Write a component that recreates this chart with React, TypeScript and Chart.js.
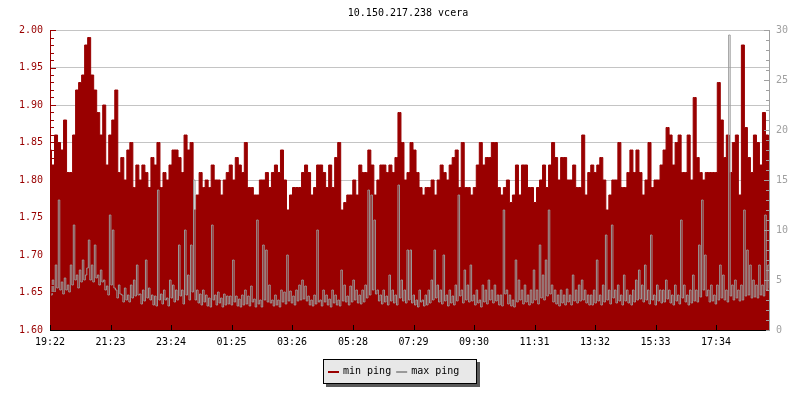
import React, { useEffect, useRef } from "react";
import { Chart, registerables } from "chart.js";

Chart.register(...registerables);

const TITLE = "10.150.217.238 vcera";
const SERIES_NAMES = ["min ping", "max ping"];
const TIME_LABELS = ["19:22", "21:23", "23:24", "01:25", "03:26", "05:28", "07:29", "09:30", "11:31", "13:32", "15:33", "17:34"];
const SPAN_MINUTES = 1440;

// min ping (left axis), one sample per ~6 minutes, starting 19:22
const MIN_PING = [
  1.84, 1.82, 1.86, 1.85, 1.84, 1.88, 1.81, 1.81, 1.86, 1.92,
  1.93, 1.94, 1.98, 1.99, 1.94, 1.92, 1.89, 1.86, 1.90, 1.82,
  1.86, 1.88, 1.92, 1.81, 1.83, 1.80, 1.84, 1.85, 1.79, 1.82,
  1.80, 1.82, 1.81, 1.79, 1.83, 1.82, 1.85, 1.79, 1.81, 1.80,
  1.82, 1.84, 1.84, 1.83, 1.81, 1.86, 1.84, 1.85, 1.76, 1.78,
  1.81, 1.79, 1.80, 1.79, 1.82, 1.80, 1.80, 1.78, 1.80, 1.81,
  1.82, 1.80, 1.83, 1.82, 1.81, 1.85, 1.79, 1.79, 1.78, 1.78,
  1.80, 1.80, 1.81, 1.79, 1.81, 1.82, 1.81, 1.84, 1.80, 1.76,
  1.78, 1.79, 1.79, 1.79, 1.81, 1.82, 1.81, 1.78, 1.79, 1.82,
  1.82, 1.81, 1.79, 1.82, 1.79, 1.83, 1.85, 1.76, 1.77, 1.78,
  1.78, 1.80, 1.78, 1.82, 1.81, 1.81, 1.84, 1.82, 1.78, 1.80,
  1.82, 1.82, 1.81, 1.82, 1.81, 1.83, 1.89, 1.85, 1.80, 1.81,
  1.85, 1.84, 1.81, 1.79, 1.78, 1.79, 1.79, 1.80, 1.78, 1.80,
  1.82, 1.81, 1.80, 1.82, 1.83, 1.84, 1.79, 1.85, 1.79, 1.79,
  1.78, 1.79, 1.82, 1.85, 1.82, 1.83, 1.83, 1.85, 1.85, 1.79,
  1.78, 1.79, 1.80, 1.77, 1.78, 1.82, 1.78, 1.82, 1.82, 1.79,
  1.79, 1.77, 1.79, 1.80, 1.82, 1.79, 1.82, 1.85, 1.83, 1.80,
  1.83, 1.83, 1.80, 1.80, 1.82, 1.79, 1.79, 1.86, 1.78, 1.81,
  1.82, 1.81, 1.82, 1.83, 1.80, 1.76, 1.78, 1.80, 1.80, 1.85,
  1.79, 1.79, 1.81, 1.84, 1.81, 1.84, 1.81, 1.78, 1.80, 1.85,
  1.79, 1.80, 1.80, 1.82, 1.84, 1.87, 1.86, 1.82, 1.85, 1.86,
  1.81, 1.81, 1.86, 1.80, 1.91, 1.83, 1.81, 1.80, 1.81, 1.81,
  1.81, 1.81, 1.93, 1.88, 1.83, 1.86, 1.81, 1.85, 1.86, 1.78,
  1.98, 1.87, 1.83, 1.81, 1.86, 1.85, 1.82, 1.89, 1.86, 1.84,
];

// max ping (right axis), one sample per ~3 minutes
const MAX_PING = [
  4.5, 3.5, 5.0, 3.8, 6.5, 4.2, 13.0, 4.0, 4.8, 3.6, 5.2, 4.0, 4.5, 3.8, 6.5, 4.5, 10.5, 5.0, 5.5, 4.2,
  6.0, 4.8, 7.0, 5.0, 5.5, 6.2, 9.0, 5.0, 6.5, 4.8, 8.5, 5.2, 5.5, 4.5, 6.0, 4.8, 5.0, 4.0, 4.4, 3.5,
  11.5, 4.5, 10.0, 4.2, 4.0, 3.2, 4.5, 3.6, 3.5, 2.8, 4.2, 3.0, 3.5, 2.8, 4.5, 3.2, 5.0, 3.4, 6.5, 3.5,
  3.6, 2.6, 4.0, 2.9, 7.0, 3.2, 4.2, 3.0, 3.5, 2.5, 3.4, 2.4, 14.0, 3.0, 3.6, 2.6, 4.0, 3.0, 3.2, 2.4,
  5.0, 3.2, 4.5, 2.8, 4.0, 3.0, 8.5, 3.4, 4.0, 2.6, 10.0, 3.5, 5.5, 3.0, 8.5, 3.8, 15.0, 3.0, 4.0, 2.7,
  3.6, 2.5, 4.0, 2.8, 3.5, 2.4, 3.2, 2.3, 10.5, 3.0, 3.5, 2.5, 3.8, 2.7, 3.2, 2.3, 3.6, 2.5, 3.4, 2.6,
  3.4, 2.5, 7.0, 2.8, 3.4, 2.4, 3.1, 2.3, 3.5, 2.5, 4.0, 2.6, 3.4, 2.4, 4.4, 2.8, 3.1, 2.3, 11.0, 2.6,
  3.0, 2.3, 8.5, 3.0, 8.0, 2.8, 4.5, 2.7, 3.0, 2.4, 3.5, 2.5, 3.0, 2.3, 4.0, 2.8, 3.8, 2.6, 7.5, 2.9,
  3.9, 2.7, 3.4, 2.5, 4.0, 2.9, 4.5, 3.0, 5.0, 3.1, 4.4, 2.9, 3.4, 2.5, 3.0, 2.4, 3.5, 2.6, 10.0, 2.8,
  3.0, 2.4, 4.0, 2.8, 3.5, 2.5, 3.1, 2.3, 4.0, 2.7, 3.5, 2.5, 3.0, 2.4, 6.0, 2.9, 4.5, 2.8, 3.4, 2.5,
  4.4, 2.8, 5.0, 3.0, 4.0, 2.7, 3.5, 2.6, 4.0, 2.8, 4.5, 3.2, 14.0, 3.5, 13.5, 4.0, 11.0, 3.6, 4.0, 2.9,
  3.5, 2.6, 4.0, 2.8, 3.4, 2.5, 5.5, 2.9, 4.0, 2.7, 3.5, 2.5, 14.5, 3.2, 5.0, 2.9, 4.0, 2.7, 8.0, 3.0,
  8.0, 2.7, 3.5, 2.5, 3.0, 2.3, 4.0, 2.8, 3.0, 2.4, 3.5, 2.5, 4.0, 2.7, 5.0, 3.0, 8.0, 3.2, 4.5, 2.8,
  4.0, 2.6, 7.5, 2.9, 3.5, 2.4, 4.0, 2.7, 3.4, 2.5, 4.5, 2.9, 13.5, 3.4, 4.0, 2.7, 6.0, 3.0, 4.5, 2.8,
  6.5, 2.9, 3.5, 2.5, 4.0, 2.7, 3.0, 2.3, 4.5, 2.8, 4.0, 2.6, 5.0, 3.0, 4.0, 2.7, 4.5, 2.9, 3.5, 2.5,
  3.5, 2.4, 12.0, 3.6, 4.0, 2.6, 3.5, 2.4, 3.0, 2.3, 7.0, 2.8, 5.0, 3.0, 4.0, 2.6, 4.5, 2.8, 3.5, 2.5,
  4.0, 2.7, 6.0, 3.0, 4.0, 2.6, 8.5, 3.2, 5.5, 3.0, 7.0, 3.4, 12.0, 3.6, 4.5, 2.8, 4.0, 2.6, 3.5, 2.4,
  4.0, 2.7, 3.5, 2.5, 4.1, 2.8, 3.5, 2.5, 5.5, 2.9, 4.0, 2.7, 4.5, 2.9, 5.0, 3.0, 4.0, 2.7, 3.5, 2.5,
  3.5, 2.5, 4.0, 2.7, 7.0, 2.9, 3.5, 2.5, 4.5, 2.8, 9.5, 3.0, 4.0, 2.6, 10.5, 3.2, 4.0, 2.7, 4.5, 2.9,
  3.5, 2.5, 5.5, 2.9, 4.0, 2.7, 3.5, 2.5, 4.0, 2.8, 5.0, 3.0, 6.0, 3.1, 4.5, 2.8, 6.5, 3.0, 4.0, 2.6,
  9.5, 3.0, 3.5, 2.5, 4.5, 2.9, 4.0, 2.7, 4.0, 2.8, 5.0, 3.1, 4.0, 2.7, 3.5, 2.5, 4.5, 2.9, 3.5, 2.6,
  11.0, 3.2, 4.5, 2.8, 3.5, 2.5, 4.0, 2.7, 5.5, 2.9, 4.0, 2.8, 8.5, 3.3, 13.0, 4.0, 7.5, 3.4, 4.0, 2.8,
  4.5, 2.9, 3.5, 2.6, 4.5, 3.0, 6.5, 3.2, 5.5, 3.0, 4.0, 2.8, 29.5, 3.4, 4.5, 3.0, 5.0, 3.2, 4.0, 2.9,
  4.5, 3.0, 12.0, 3.4, 8.0, 3.5, 6.5, 3.2, 5.0, 3.3, 4.5, 3.2, 6.5, 3.5, 4.5, 3.4, 11.5, 4.0, 6.5, 4.2,
];

const RED = "#990000";
const GRAY = "#999999";
const AXIS_GRAY = "#a0a0a0";
const GRID = "#c4c4c4";
const FONT = "'DejaVu Sans Mono', monospace";

const toMin = (s: string) => {
  const [h, m] = s.split(":").map(Number);
  return h * 60 + m;
};
const T0 = toMin(TIME_LABELS[0]);
const TICK_MIN = TIME_LABELS.map((s) => (toMin(s) - T0 + SPAN_MINUTES) % SPAN_MINUTES);

const seriesPoints = (arr: number[]) =>
  arr.map((v, i) => ({ x: (i * SPAN_MINUTES) / (arr.length - 1), y: v }));

const decoPlugin = {
  id: "deco",
  afterDatasetsDraw(chart: any) {
    const { ctx, chartArea: a, scales } = chart;
    const y = scales.y;
    const y2 = scales.y2;
    const x = scales.x;
    ctx.save();
    ctx.lineWidth = 1;

    // left axis (red) with major/minor ticks
    ctx.strokeStyle = RED;
    ctx.beginPath();
    ctx.moveTo(a.left + 0.5, a.top);
    ctx.lineTo(a.left + 0.5, a.bottom);
    for (let k = 0; k <= 40; k++) {
      const v = y.min + (k * (y.max - y.min)) / 40;
      const p = Math.round(y.getPixelForValue(v)) + 0.5;
      const len = k % 5 === 0 ? 5 : 3;
      ctx.moveTo(a.left, p);
      ctx.lineTo(a.left + 1 + len, p);
    }
    ctx.stroke();

    // right axis (gray)
    ctx.strokeStyle = AXIS_GRAY;
    ctx.beginPath();
    ctx.moveTo(a.right - 0.5, a.top);
    ctx.lineTo(a.right - 0.5, a.bottom + 1);
    for (let k = 0; k <= 30; k++) {
      const v = y2.min + (k * (y2.max - y2.min)) / 30;
      const p = Math.round(y2.getPixelForValue(v)) + 0.5;
      const len = k % 5 === 0 ? 5 : 3;
      ctx.moveTo(a.right, p);
      ctx.lineTo(a.right - 1 - len, p);
    }
    ctx.stroke();

    // bottom axis (black)
    ctx.strokeStyle = "#000000";
    ctx.beginPath();
    ctx.moveTo(a.left, a.bottom + 0.5);
    ctx.lineTo(a.right - 4, a.bottom + 0.5);
    TICK_MIN.forEach((v) => {
      const px = Math.round(x.getPixelForValue(v)) + 0.5;
      ctx.moveTo(px, a.bottom - 5);
      ctx.lineTo(px, a.bottom + 1);
    });
    ctx.stroke();
    ctx.restore();
  },
  afterDraw(chart: any) {
    const { ctx, chartArea: a, width } = chart;
    ctx.save();
    ctx.font = `10px ${FONT}`;
    ctx.textBaseline = "middle";

    // title
    ctx.fillStyle = "#000000";
    ctx.textAlign = "center";
    ctx.fillText(TITLE, (a.left + a.right) / 2 - 2, 13);

    // legend box with shadow
    const bw = 154;
    const bh = 25;
    const bx = Math.round(width / 2 - bw / 2);
    const by = 359;
    ctx.fillStyle = "#5a5a5a";
    ctx.fillRect(bx + 3, by + 3, bw, bh);
    ctx.fillStyle = "#e8e8e8";
    ctx.fillRect(bx, by, bw, bh);
    ctx.strokeStyle = "#000000";
    ctx.lineWidth = 1;
    ctx.strokeRect(bx + 0.5, by + 0.5, bw - 1, bh - 1);

    const colors = [RED, GRAY];
    let cx = bx + 5;
    ctx.textAlign = "left";
    SERIES_NAMES.forEach((name, i) => {
      ctx.fillStyle = colors[i];
      ctx.fillRect(cx, by + 12, 11, 2);
      ctx.fillStyle = "#000000";
      ctx.fillText(name, cx + 15, by + 12);
      cx += 15 + ctx.measureText(name).width + 5;
    });
    ctx.restore();
  },
};

export default function App() {
  const ref = useRef<HTMLCanvasElement | null>(null);

  useEffect(() => {
    if (!ref.current) return;
    const chart = new Chart(ref.current, {
      type: "line",
      data: {
        datasets: [
          {
            label: SERIES_NAMES[0],
            data: seriesPoints(MIN_PING),
            yAxisID: "y",
            borderColor: RED,
            backgroundColor: RED,
            borderWidth: 1,
            fill: "start",
            stepped: "middle",
            pointRadius: 0,
            order: 2,
          },
          {
            label: SERIES_NAMES[1],
            data: seriesPoints(MAX_PING),
            yAxisID: "y2",
            borderColor: GRAY,
            backgroundColor: GRAY,
            borderWidth: 1,
            fill: false,
            stepped: "middle",
            pointRadius: 0,
            order: 1,
          },
        ],
      },
      options: {
        responsive: false,
        animation: false,
        devicePixelRatio: 1,
        layout: { padding: { top: 30, left: 0, right: 0, bottom: 0 } },
        plugins: {
          legend: { display: false },
          title: { display: false },
          tooltip: { enabled: false },
        },
        scales: {
          x: {
            type: "linear",
            position: "bottom",
            min: 0,
            max: SPAN_MINUTES,
            afterFit: (s: any) => {
              s.height = 70;
            },
            afterBuildTicks: (s: any) => {
              s.ticks = TICK_MIN.map((v) => ({ value: v }));
            },
            grid: { display: false },
            border: { display: false },
            ticks: {
              autoSkip: false,
              maxRotation: 0,
              color: "#000000",
              padding: -2,
              font: { family: FONT, size: 10 },
              callback: (v: any) => {
                const i = TICK_MIN.indexOf(Number(v));
                return i >= 0 ? TIME_LABELS[i] : "";
              },
            },
          },
          y: {
            position: "left",
            min: 1.6,
            max: 2.0,
            afterFit: (s: any) => {
              s.width = 50;
            },
            grid: { color: GRID, lineWidth: 1, drawTicks: false },
            border: { display: false },
            ticks: {
              stepSize: 0.05,
              color: RED,
              padding: 7,
              font: { family: FONT, size: 10 },
              callback: (v: any) => Number(v).toFixed(2),
            },
          },
          y2: {
            position: "right",
            min: 0,
            max: 30,
            afterFit: (s: any) => {
              s.width = 30;
            },
            grid: { display: false, drawTicks: false },
            border: { display: false },
            ticks: {
              stepSize: 5,
              color: AXIS_GRAY,
              padding: 6,
              font: { family: FONT, size: 10 },
            },
          },
        },
      },
      plugins: [decoPlugin],
    });
    return () => chart.destroy();
  }, []);

  return (
    <div style={{ position: "fixed", left: 0, top: 0, width: 800, height: 400, background: "#ffffff" }}>
      <canvas ref={ref} width={800} height={400} style={{ display: "block" }} />
    </div>
  );
}
